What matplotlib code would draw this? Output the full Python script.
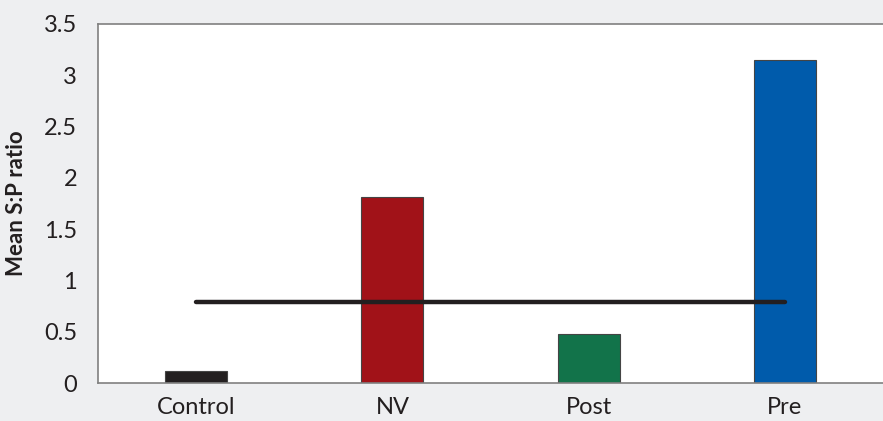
import matplotlib.pyplot as plt

groups = ["Control", "NV", "Post", "Pre"]
mean_sp = [0.12, 1.81, 0.48, 3.15]
bar_colors = ["#231f20", "#a11218", "#12734a", "#005bab"]
cutoff = 0.79

plt.rcParams['font.family'] = ['Lato', 'DejaVu Sans']

fig = plt.figure(figsize=(8.83, 4.21), dpi=100, facecolor="#eeeff1")
ax = fig.add_axes([0.111, 0.09, 0.889, 0.853])
ax.set_facecolor("white")

x = list(range(len(groups)))
ax.bar(x, mean_sp, width=0.315, color=bar_colors, edgecolor="#444444", linewidth=0.8, zorder=2)
ax.plot([x[0], x[-1]], [cutoff, cutoff], color="#231f20", linewidth=3.2,
        solid_capstyle="round", zorder=3)

ax.set_xlim(-0.5, 3.5)
ax.set_ylim(0, 3.5)
ax.set_yticks([0, 0.5, 1, 1.5, 2, 2.5, 3, 3.5])
ax.set_yticklabels(["0", "0.5", "1", "1.5", "2", "2.5", "3", "3.5"])
ax.set_xticks(x)
ax.set_xticklabels(groups)
ax.tick_params(axis="y", length=0, labelsize=17, colors="#231f20", pad=15)
ax.tick_params(axis="x", length=0, labelsize=17, colors="#231f20", pad=10)
ax.set_ylabel("Mean S:P ratio", fontsize=16, fontweight="bold", color="#231f20", labelpad=12)

for s in ["left", "top", "bottom"]:
    ax.spines[s].set_color("#808080")
    ax.spines[s].set_linewidth(1.2)
ax.spines["right"].set_visible(False)

fig.savefig("out.png", dpi=100, facecolor=fig.get_facecolor())
